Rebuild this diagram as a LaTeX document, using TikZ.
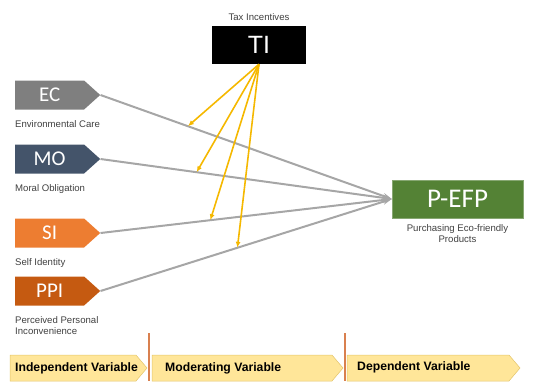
\documentclass[tikz,border=0pt]{standalone}
\usepackage{fontspec}
\setmainfont{Liberation Sans}
\newfontfamily\boxfont{Carlito}
\usetikzlibrary{shapes.symbols,arrows.meta}

\definecolor{ecgray}{HTML}{7F7F7F}
\definecolor{moblue}{HTML}{44546A}
\definecolor{siorange}{HTML}{ED7D31}
\definecolor{ppirust}{HTML}{C55A11}
\definecolor{efpgreen}{HTML}{548235}
\definecolor{tiyellow}{HTML}{F5B800}
\definecolor{linkgray}{HTML}{A6A6A6}
\definecolor{labelgray}{HTML}{404040}
\definecolor{stageyellow}{HTML}{FFE699}
\definecolor{stageedge}{HTML}{E3C46A}
\definecolor{divider}{HTML}{D9804F}

\tikzset{
    srcbox/.style={signal, signal to=east, signal pointer angle=84, minimum width=85pt, minimum height=29pt,
        inner sep=0pt, text=white, font=\boxfont\fontsize{21}{23}\selectfont, anchor=west},
    lbl/.style={font=\fontsize{9.6}{11}\selectfont, text=labelgray, inner sep=0pt, align=left},
    link/.style={draw=linkgray, line width=2pt, -{Stealth[length=9pt,width=6pt]}},
    moderate/.style={draw=tiyellow, line width=1.6pt, -{Latex[length=6pt,width=5pt]}},
    stagebox/.style={fill=stageyellow, draw=stageedge, line width=0.5pt},
    stagetext/.style={anchor=west, inner sep=0pt, font=\bfseries\fontsize{12.2}{14}\selectfont}
}

\begin{document}
\begin{tikzpicture}[x=1pt, y=-1pt]
    \useasboundingbox (0,0) rectangle (548,381);

    % Independent variables on the left
    \foreach \name/\txt/\col/\y/\desc in {ec/EC/ecgray/95/{Environmental Care}, mo/MO/moblue/159/{Moral Obligation},
        si/SI/siorange/233/{Self Identity}, ppi/PPI/ppirust/291/{Perceived Personal\\Inconvenience}} {
        \node[srcbox, fill=\col] (\name) at (15,\y) {\txt};
        \node[lbl, anchor=north west] (d\name) at ([yshift=-11pt]\name.south west) {\desc};
    }

    % Moderating and dependent variables
    \node[fill=black, text=white, minimum width=94pt, minimum height=38pt, inner sep=0pt,
        font=\fontsize{25}{27}\selectfont, label={[lbl, label distance=5pt]above:Tax Incentives}] (ti) at (259,45) {TI};
    \node[fill=efpgreen, draw=efpgreen!70, text=white, minimum width=131pt, minimum height=38pt, inner sep=0pt,
        font=\boxfont\fontsize{27}{29}\selectfont,
        label={[lbl, align=center, label distance=6pt]below:Purchasing Eco-friendly\\Products}] (pefp) at (457.5,199) {P-EFP};

    % Direct effects
    \draw[link] (ec.east) -- (pefp.west) coordinate[pos=0.30] (hitec);
    \draw[link] (mo.east) -- (pefp.west) coordinate[pos=0.33] (hitmo);
    \draw[link] (si.east) -- (pefp.west) coordinate[pos=0.377] (hitsi);
    \draw[link] (ppi.east) -- (pefp.west) coordinate[pos=0.47] (hitppi);

    % Moderating effects of TI
    \foreach \n in {ec,mo,si,ppi} {
        \draw[moderate] (ti.south) -- (hit\n);
    }

    % Stage bar at the bottom
    \foreach \l/\r in {10/147, 152/343, 347/520} {
        \filldraw[stagebox] (\l,355) -- (\r-11,355) -- (\r,368) -- (\r-11,381) -- (\l,381) -- cycle;
    }
    \draw[divider, line width=2pt] (149,333) -- (149,381);
    \draw[divider, line width=2pt] (345,333) -- (345,381);
    \node[stagetext] (indep) at (15,368) {Independent Variable};
    \node[stagetext] (moder) at (165,368) {Moderating Variable};
    \node[stagetext] (depen) at (357,367) {Dependent Variable};
\end{tikzpicture}
\end{document}
